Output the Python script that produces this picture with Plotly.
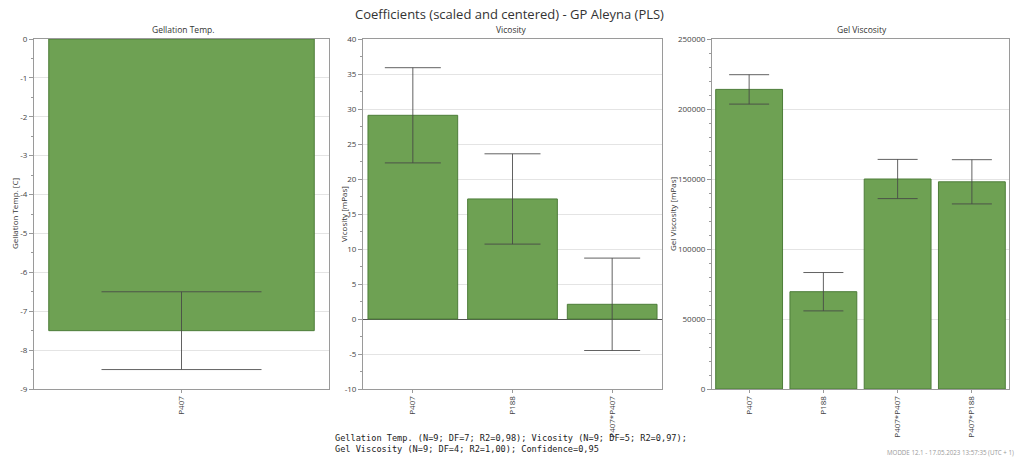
import plotly.graph_objects as go

W, H = 1018, 457

# ---- data ----
gt_terms = ["P407"]
gt_coef = [-7.5]
gt_err = [1.0]
gt_ticks = [0, -1, -2, -3, -4, -5, -6, -7, -8, -9]

vis_terms = ["P407", "P188", "P407*P407"]
vis_coef = [29.1, 17.15, 2.1]
vis_err = [6.8, 6.45, 6.6]
vis_ticks = [40, 35, 30, 25, 20, 15, 10, 5, 0, -5, -10]

gel_terms = ["P407", "P188", "P407*P407", "P407*P188"]
gel_coef = [214000, 69500, 150000, 148000]
gel_err = [10500, 13700, 14000, 15800]
gel_ticks = [0, 50000, 100000, 150000, 200000, 250000]

main_title = "Coefficients (scaled and centered) - GP Aleyna (PLS)"
panel_titles = ["Gellation Temp.", "Vicosity", "Gel Viscosity"]
y_titles = ["Gellation Temp. [C]", "Vicosity [mPas]", "Gel Viscosity [mPas]"]
footer = ("Gellation Temp. (N=9; DF=7; R2=0,98); Vicosity (N=9; DF=5; R2=0,97);<br>"
          "Gel Viscosity (N=9; DF=4; R2=1,00); Confidence=0,95")
stamp = "MODDE 12.1 - 17.05.2023 13:57:35 (UTC + 1)"

BAR = "#6ea153"
BAR_LINE = "#4d7d39"
ERR = "rgba(70,70,70,0.85)"
GRID = "#e4e4e4"
AX = "#9a9a9a"
FONT = "Open Sans, Noto Sans, sans-serif"

def px(x):
    return x / W

def py(y):
    return 1 - y / H

y_dom = [py(389), py(39)]
x_doms = [[px(34), px(329)], [px(363), px(662)], [px(712), px(1009)]]

fig = go.Figure()
datasets = [(gt_terms, gt_coef, gt_err, 80), (vis_terms, vis_coef, vis_err, 28),
            (gel_terms, gel_coef, gel_err, 20)]
for i, (t, c, e, w) in enumerate(datasets):
    sfx = "" if i == 0 else str(i + 1)
    fig.add_trace(go.Bar(
        x=t, y=c, xaxis="x" + sfx, yaxis="y" + sfx,
        marker=dict(color=BAR, line=dict(color=BAR_LINE, width=1)),
        error_y=dict(type="data", array=e, visible=True, color=ERR, thickness=1, width=w),
        showlegend=False,
    ))

y_ranges = [[-9, 0], [-10, 40], [0, 250000]]
y_tickvals = [gt_ticks, vis_ticks, gel_ticks]
y_minor = [0.5, 2.5, 10000]

layout = dict(
    width=W, height=H, autosize=False,
    margin=dict(l=0, r=0, t=0, b=0, pad=0, autoexpand=False),
    paper_bgcolor="white", plot_bgcolor="white",
    bargap=0.1,
    font=dict(family=FONT, size=8, color="#333"),
)
for i in range(3):
    sfx = "" if i == 0 else str(i + 1)
    layout["xaxis" + sfx] = dict(
        domain=x_doms[i], anchor="y" + sfx, type="category", automargin=False,
        tickangle=-90, ticks="outside", ticklen=3, tickcolor=AX,
        showline=True, linecolor=AX, mirror=True, showgrid=False,
        tickfont=dict(size=8, color="#444"), fixedrange=True,
    )
    layout["yaxis" + sfx] = dict(
        domain=y_dom, anchor="x" + sfx, range=y_ranges[i],
        tickmode="array", tickvals=y_tickvals[i],
        ticktext=[str(v).replace("\u2212", "-") for v in y_tickvals[i]],
        automargin=False,
        ticks="outside", ticklen=4, tickcolor=AX,
        minor=dict(dtick=y_minor[i], ticks="outside", ticklen=2, tickcolor=AX, showgrid=False),
        showline=True, linecolor=AX, mirror=True,
        showgrid=True, gridcolor=GRID, gridwidth=1,
        zeroline=(i == 1), zerolinecolor="#555", zerolinewidth=1,
        tickfont=dict(size=8, color="#444"), fixedrange=True,
    )

annotations = [
    dict(text=main_title, x=px(509), y=py(14), xref="paper", yref="paper",
         xanchor="center", yanchor="middle",
         showarrow=False, font=dict(size=13, color="#333", family=FONT)),
]
title_x = [183, 512, 862]
ytitle_x = [14, 343, 672]
for i in range(3):
    annotations.append(dict(text=panel_titles[i], x=px(title_x[i]), y=py(29),
                            xref="paper", yref="paper", showarrow=False,
                            xanchor="center", yanchor="middle",
                            font=dict(size=8.5, color="#333")))
    annotations.append(dict(text=y_titles[i], x=px(ytitle_x[i]), y=py(214),
                            xref="paper", yref="paper", showarrow=False, textangle=-90,
                            xanchor="center", yanchor="middle",
                            font=dict(size=8, color="#333")))
annotations.append(dict(text=footer, x=px(333), y=py(431), xref="paper", yref="paper",
                        xanchor="left", yanchor="top", align="left", showarrow=False,
                        font=dict(size=8.6, color="#222", family="DejaVu Sans Mono, Liberation Mono, monospace")))
annotations.append(dict(text=stamp, x=px(1016), y=py(452), xref="paper", yref="paper",
                        xanchor="right", yanchor="middle", showarrow=False,
                        font=dict(size=6.2, color="#999")))
layout["annotations"] = annotations
fig.update_layout(**layout)

fig.write_html("out.html", config=dict(displayModeBar=False),
               post_script="document.body.style.margin='0';document.body.style.padding='0';")
